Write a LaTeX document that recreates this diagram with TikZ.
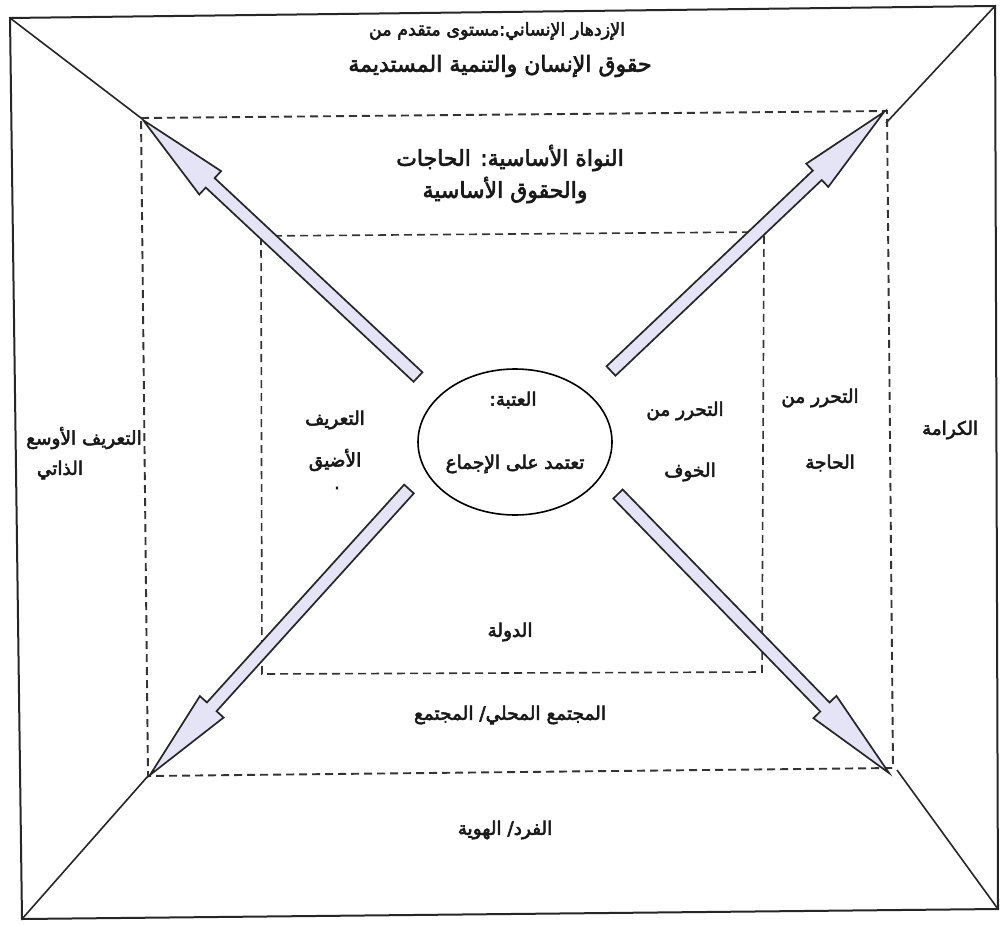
\documentclass[tikz,border=0pt]{standalone}
\usepackage{fontspec}
\usetikzlibrary{calc,shapes.geometric}
\TeXXeTstate=1
\newfontfamily\arabicfont[Script=Arabic,FakeBold=3]{DejaVu Sans}
\definecolor{arrfill}{RGB}{228,228,246}
\tikzset{
  outerline/.style={line width=2pt,draw=black!85},
  dashline/.style={line width=1.9pt,draw=black!80,dash pattern=on 8pt off 5pt},
  blockarrow/.style={line width=1.7pt,draw=black!85,fill=arrfill,line join=miter},
  txt/.style={font=\arabicfont\fontsize{18.5}{22}\selectfont,inner sep=0pt,text=black!90},
  bigtxt/.style={font=\arabicfont\fontsize{22}{26}\selectfont,inner sep=0pt,text=black!90},
}
\newcommand{\blockarr}[2]{%
  \coordinate (hb-#1) at ($(#2)!92pt!(#1)$);
  \draw[blockarrow] ($(#1)!6.5pt!90:(#2)$) -- ($(hb-#1)!6.5pt!-90:(#1)$)
    -- ($(hb-#1)!16pt!-90:(#1)$) -- (#2) -- ($(hb-#1)!16pt!90:(#1)$)
    -- ($(hb-#1)!6.5pt!90:(#1)$) -- ($(#1)!6.5pt!-90:(#2)$) -- cycle;}
\begin{document}
\begin{tikzpicture}[x=1pt,y=-1pt]
\useasboundingbox (0,0) rectangle (1000,925);
\fill[white] (0,0) rectangle (1000,925);
% outer frame corners
\coordinate (o1) at (10,18);
\coordinate (o2) at (995,6);
\coordinate (o3) at (998,909);
\coordinate (o4) at (22,919);
% middle dashed frame corners
\coordinate (m1) at (141,118);
\coordinate (m2) at (887,111);
\coordinate (m3) at (893,768);
\coordinate (m4) at (148,776);
% inner dashed frame corners
\coordinate (i1) at (261,236);
\coordinate (i2) at (764,232);
\coordinate (i3) at (762,672);
\coordinate (i4) at (262,674);
\draw[outerline] (o1) -- (o2) -- (o3) -- (o4) -- cycle;
\draw[outerline,line width=1.6pt] (o1) -- (m1);
\draw[outerline,line width=1.6pt] (o2) -- ($(m2)+(-1,12)$);
\draw[outerline,line width=1.6pt] (o3) -- ($(m3)+(4,2)$);
\draw[outerline,line width=1.6pt] (o4) -- (m4);
\draw[dashline] (m1) -- (m2) -- (m3) -- (m4) -- cycle;
\draw[dashline,line width=1.6pt] (i1) -- (i2) -- (i3) -- (i4) -- cycle;
% centre ellipse
\node[draw,ellipse,line width=1.6pt,minimum width=194pt,minimum height=146pt,inner sep=0pt] (core) at (515,442) {};
% arrows
\coordinate (tNW) at (418,377);
\coordinate (tNE) at (611,371);
\coordinate (tSW) at (409,489);
\coordinate (tSE) at (618,494);
\coordinate (pNW) at (143,120);
\coordinate (pNE) at (884,112);
\coordinate (pSW) at (150,775);
\coordinate (pSE) at (889,773);
\blockarr{tNW}{pNW}
\blockarr{tNE}{pNE}
\blockarr{tSW}{pSW}
\blockarr{tSE}{pSE}
% texts
\node[txt,font=\arabicfont\fontsize{17.5}{21}\selectfont] (t1) at (497,31) {\beginR الإزدهار الإنساني:مستوى متقدم من\endR};
\node[bigtxt] (t2) at (500,66) {\beginR حقوق الإنسان والتنمية المستديمة\endR};
\node[bigtxt] (t3) at (510,158) {\beginR النواة الأساسية: الحاجات\endR};
\node[bigtxt] (t4) at (505,190) {\beginR والحقوق الأساسية\endR};
\node[txt] (t5) at (84,438) {\beginR التعريف الأوسع\endR};
\node[txt] (t6) at (60,470) {\beginR الذاتي\endR};
\node[txt] (t7) at (335,420) {\beginR التعريف\endR};
\node[txt] (t8) at (335,460) {\beginR الأضيق\endR};
\node[txt] (t8b) at (337,488) {.};
\node[txt] (t9) at (513,400) {\beginR العتبة:\endR};
\node[txt] (t10) at (515,464) {\beginR تعتمد على الإجماع\endR};
\node[txt] (t11) at (685,411) {\beginR التحرر من\endR};
\node[txt] (t12) at (690,472) {\beginR الخوف\endR};
\node[txt] (t13) at (820,398) {\beginR التحرر من\endR};
\node[txt] (t14) at (830,463) {\beginR الحاجة\endR};
\node[txt] (t15) at (950,430) {\beginR الكرامة\endR};
\node[txt] (t16) at (510,632) {\beginR الدولة\endR};
\node[txt] (t17) at (510,715) {\beginR المجتمع المحلي/ المجتمع\endR};
\node[txt] (t18) at (505,830) {\beginR الفرد/ الهوية\endR};
\end{tikzpicture}
\end{document}
